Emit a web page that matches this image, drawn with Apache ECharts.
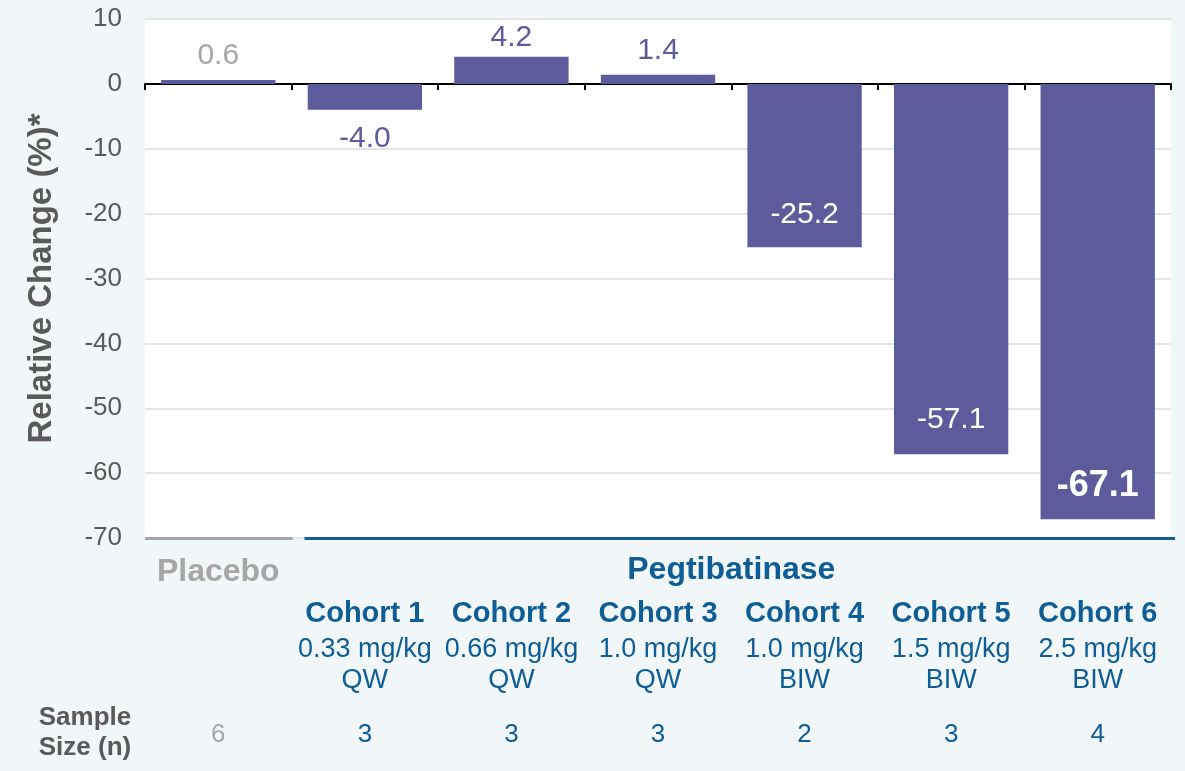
<!DOCTYPE html>
<html>
<head>
<meta charset="utf-8">
<script src="https://cdn.jsdelivr.net/npm/echarts@6/dist/echarts.min.js"></script>
<style>
  html, body { margin: 0; padding: 0; background: #f1f6f9; }
  #chart { width: 1185px; height: 771px; }
</style>
</head>
<body>
<div id="chart"></div>
<script>
// Treatment groups and their dosing
const groups = ['Placebo', 'Cohort 1', 'Cohort 2', 'Cohort 3', 'Cohort 4', 'Cohort 5', 'Cohort 6'];
const doses = ['', '0.33 mg/kg', '0.66 mg/kg', '1.0 mg/kg', '1.0 mg/kg', '1.5 mg/kg', '2.5 mg/kg'];
const regimens = ['', 'QW', 'QW', 'QW', 'BIW', 'BIW', 'BIW'];
const sampleSizes = [6, 3, 3, 3, 2, 3, 4];
// Relative change (%) per group
const relativeChange = [0.6, -4.0, 4.2, 1.4, -25.2, -57.1, -67.1];
// Value axis range
const yMin = -70, yMax = 10, yStep = 10;

const FONT = '"Liberation Sans", Arial, sans-serif';
const BAR = '#5e5b9c';
const BLUE = '#0e5d94';
const GRAY = '#a6a6a6';
const DARK = '#595959';

// spacing between each bar and its value label
const labelGap = [9, 14, 4, 9, 18, 20, 15];

const chart = echarts.init(document.getElementById('chart'), null, { renderer: 'canvas' });

const peak = Math.min(...relativeChange);
const barData = relativeChange.map((v, i) => {
  let label;
  if (v >= 0) {
    label = { position: 'top', color: i === 0 ? GRAY : BAR };
  } else if (v > -10) {
    label = { position: 'bottom', color: BAR };
  } else {
    label = { position: 'insideBottom', color: '#ffffff' };
    if (v === peak) { label.fontSize = 36; label.fontWeight = 'bold'; }
  }
  label.distance = labelGap[i];
  return { value: v, label };
});

const option = {
  backgroundColor: '#f1f6f9',
  animation: false,
  textStyle: { fontFamily: FONT },
  grid: {
    left: 145, right: 14, top: 19, bottom: 233,
    show: true, backgroundColor: '#ffffff', borderWidth: 0
  },
  xAxis: [
    {
      type: 'category',
      data: groups,
      position: 'bottom',
      axisLine: { show: false, onZero: false },
      axisTick: { show: false },
      axisLabel: {
        interval: 0,
        margin: 13,
        fontFamily: FONT,
        formatter: (value, idx) => {
          if (idx === 0) {
            return '{plc|' + value + '}\n{c| }\n{d| }\n{d2| }\n{np|' + sampleSizes[idx] + '}';
          }
          return '{h| }\n{c|' + value + '}\n{d|' + doses[idx] + '}\n{d2|' + regimens[idx] + '}\n{n|' + sampleSizes[idx] + '}';
        },
        rich: {
          plc: { fontFamily: FONT, fontSize: 32, fontWeight: 'bold', color: GRAY, lineHeight: 42 },
          h: { fontFamily: FONT, fontSize: 32, lineHeight: 42 },
          c: { fontFamily: FONT, fontSize: 29, fontWeight: 'bold', color: BLUE, lineHeight: 42 },
          d: { fontFamily: FONT, fontSize: 27, color: BLUE, lineHeight: 30 },
          d2: { fontFamily: FONT, fontSize: 27, color: BLUE, lineHeight: 32 },
          n: { fontFamily: FONT, fontSize: 26, color: BLUE, lineHeight: 76 },
          np: { fontFamily: FONT, fontSize: 26, color: GRAY, lineHeight: 76 }
        }
      }
    },
    {
      type: 'category',
      data: groups,
      position: 'bottom',
      axisLine: { show: true, onZero: true, lineStyle: { color: '#000000', width: 2 } },
      axisTick: { show: true, length: 6, lineStyle: { color: '#000000', width: 2 } },
      axisLabel: { show: false },
      splitLine: { show: false }
    }
  ],
  yAxis: {
    type: 'value',
    min: yMin, max: yMax, interval: yStep,
    name: 'Relative Change (%)*',
    nameLocation: 'middle',
    nameGap: 87,
    nameTextStyle: { fontFamily: FONT, fontSize: 33, fontWeight: 'bold', color: DARK },
    axisLine: { show: false },
    axisTick: { show: false },
    axisLabel: { fontFamily: FONT, fontSize: 26, color: DARK, margin: 23 },
    splitLine: { lineStyle: { color: '#dcdcdc', width: 1.5 } }
  },
  series: [{
    type: 'bar',
    xAxisIndex: 0,
    data: barData,
    barWidth: '78%',
    itemStyle: { color: BAR },
    label: {
      show: true,
      fontFamily: FONT,
      fontSize: 30,
      formatter: p => p.value.toFixed(1)
    }
  }]
};

chart.setOption(option);

// Group brackets under the plot and header text, placed from the category axis
const band = (chart.convertToPixel({ xAxisIndex: 0 }, groups[1]) - chart.convertToPixel({ xAxisIndex: 0 }, groups[0]));
const x0 = chart.convertToPixel({ xAxisIndex: 0 }, groups[0]) - band / 2;
const xEnd = chart.convertToPixel({ xAxisIndex: 0 }, groups[groups.length - 1]) + band / 2;
const yBase = chart.convertToPixel({ yAxisIndex: 0 }, yMin);

chart.setOption({
  graphic: [
    { type: 'line', shape: { x1: x0, y1: yBase + 0.5, x2: x0 + band + 1, y2: yBase + 0.5 },
      style: { stroke: GRAY, lineWidth: 3 }, z: 10 },
    { type: 'line', shape: { x1: x0 + band + 13, y1: yBase + 0.5, x2: xEnd + 4, y2: yBase + 0.5 },
      style: { stroke: BLUE, lineWidth: 3 }, z: 10 },
    { type: 'text', x: (x0 + band + xEnd) / 2, y: yBase + 32,
      style: { text: 'Pegtibatinase', font: 'bold 32px ' + FONT, fill: BLUE, textAlign: 'center', textVerticalAlign: 'middle' }, z: 10 },
    { type: 'text', x: 85, y: yBase + 195,
      style: { text: 'Sample\nSize (n)', font: 'bold 26px ' + FONT, fill: DARK, textAlign: 'center', textVerticalAlign: 'middle', lineHeight: 30 }, z: 10 }
  ]
});
</script>
</body>
</html>
